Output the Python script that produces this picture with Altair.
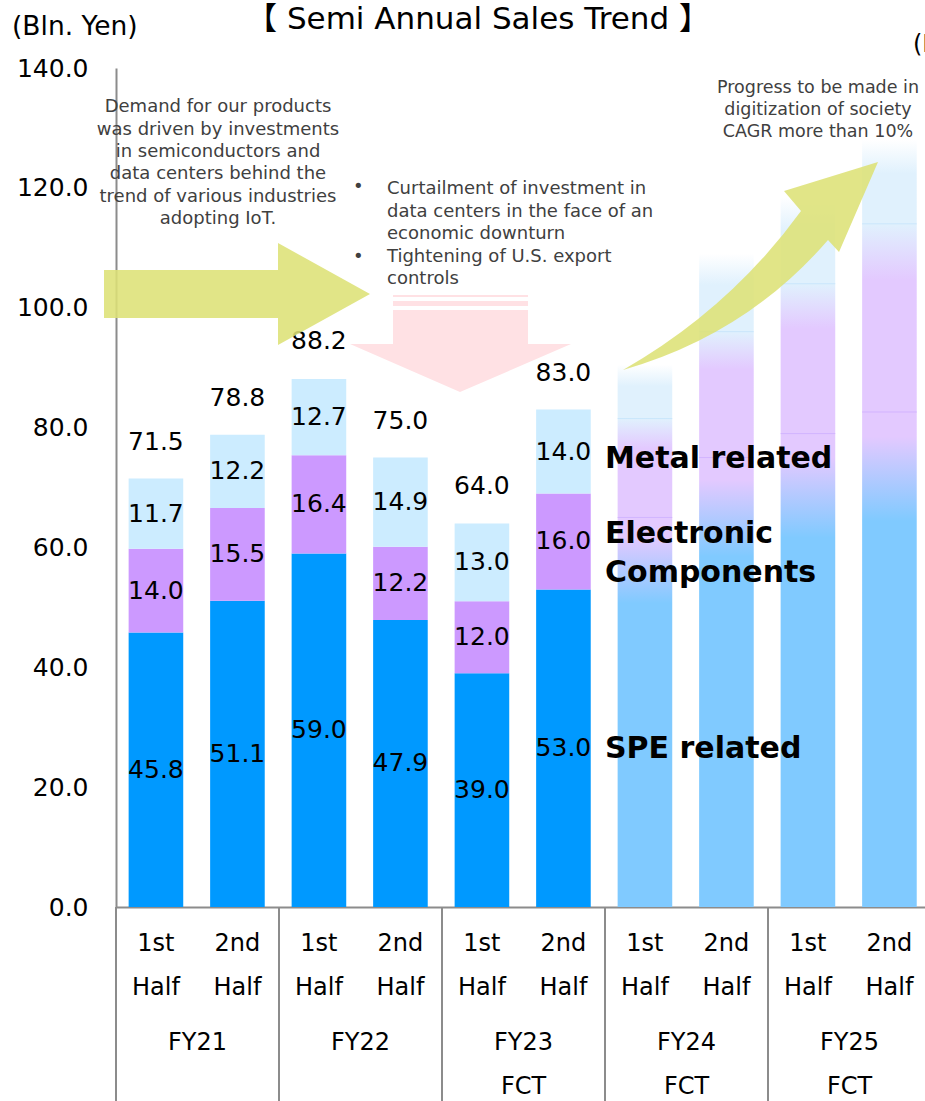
import altair as alt
import pandas as pd

# ---------------- data ----------------
fiscal_years = ["FY21", "FY22", "FY23", "FY24", "FY25"]
fy_suffix = ["", "", "FCT", "FCT", "FCT"]
halves = ["1st", "2nd"]
segments = ["SPE related", "Electronic Components", "Metal related"]

spe = [45.8, 51.1, 59.0, 47.9, 39.0, 53.0]
elec = [14.0, 15.5, 16.4, 12.2, 12.0, 16.0]
metal = [11.7, 12.2, 12.7, 14.9, 13.0, 14.0]
totals = [71.5, 78.8, 88.2, 75.0, 64.0, 83.0]

# forecast (faded) bars FY24 1H .. FY25 2H
fct_spe = [65.0, 75.0, 79.0, 82.6]
fct_elec = [16.5, 21.0, 25.0, 31.4]
fct_metal = [9.0, 13.0, 14.5, 14.0]

y_ticks = [0, 20, 40, 60, 80, 100, 120, 140]

# ---------------- tables ----------------
HALF_W = 0.335
CENTER = 0.49
rows = []
for i in range(len(spe)):
    base = 0.0
    for seg, vals in zip(segments, [spe, elec, metal]):
        v = vals[i]
        rows.append(dict(slot=i, seg=seg, y0=base, y1=base + v, mid=base + v / 2,
                         label=f"{v:.1f}", xs=i + CENTER - HALF_W,
                         xe=i + CENTER + HALF_W, xc=i + CENTER))
        base += v
bars = pd.DataFrame(rows)

tot = pd.DataFrame(dict(xc=[i + CENTER for i in range(len(totals))], total=totals,
                        label=[f"{t:.1f}" for t in totals]))

frows = []
for j in range(len(fct_spe)):
    s = len(spe) + j
    a = fct_spe[j]
    b = a + fct_elec[j]
    c = b + fct_metal[j]
    frows.append(dict(xs=s + CENTER - HALF_W, xe=s + CENTER + HALF_W,
                      s0=0, s1=a, e1=b, m1=c))
fct = pd.DataFrame(frows)

slots = pd.DataFrame(dict(
    xc=[k + CENTER for k in range(10)],
    half=[halves[k % 2] for k in range(10)],
))
groups = pd.DataFrame(dict(
    gc=[2 * g + 1.0 for g in range(5)],
    fy=fiscal_years,
    sub=fy_suffix,
    edge=[2 * g for g in range(5)],
))

FONT = "DejaVu Sans"
XDOM = [0, 809 / 81.5]
xs_ = alt.Scale(domain=XDOM, nice=False, zero=False)
ys_ = alt.Scale(domain=[0, 140], nice=False, zero=True)
one = pd.DataFrame({"a": [0]})

# ---------------- layers ----------------
bar_layer = alt.Chart(bars).mark_bar().encode(
    x=alt.X("xs:Q", scale=xs_,
            axis=alt.Axis(labels=False, ticks=False, grid=False, title=None,
                          domainColor="#8c8c8c", domainWidth=2)),
    x2="xe:Q",
    y=alt.Y("y0:Q", scale=ys_,
            axis=alt.Axis(values=y_ticks, format=".1f", title=None, grid=False,
                          ticks=False, labelFont=FONT, labelFontSize=25,
                          labelColor="#000000", labelPadding=28,
                          domainColor="#8c8c8c", domainWidth=2)),
    y2="y1:Q",
    color=alt.Color("seg:N", legend=None,
                    scale=alt.Scale(domain=segments,
                                    range=["#0099FF", "#CC99FF", "#CCECFF"])),
)

def grad(stops):
    return {"gradient": "linear", "x1": 0, "x2": 0, "y1": 0, "y2": 1,
            "stops": [{"offset": o, "color": c} for o, c in stops]}

fct_spe_layer = alt.Chart(fct).mark_bar(
    color=grad([(0, "#E3C9FF"), (0.05, "#E3C9FF"), (0.22, "#80CAFF"), (1, "#80CAFF")])
).encode(x=alt.X("xs:Q", scale=xs_), x2="xe:Q", y=alt.Y("s0:Q", scale=ys_), y2="s1:Q")

fct_elec_layer = alt.Chart(fct).mark_bar(
    color=grad([(0, "#E0F1FD"), (0.3, "#E3C9FF"), (1, "#E3C9FF")])
).encode(x=alt.X("xs:Q", scale=xs_), x2="xe:Q", y=alt.Y("s1:Q", scale=ys_), y2="e1:Q")

fct_metal_layer = alt.Chart(fct).mark_bar(
    color=grad([(0, "#FFFFFF"), (0.4, "#E0F1FD"), (1, "#E0F1FD")])
).encode(x=alt.X("xs:Q", scale=xs_), x2="xe:Q", y=alt.Y("e1:Q", scale=ys_), y2="m1:Q")

rule_a = alt.Chart(fct).mark_rule(color="#D2B4FF", strokeWidth=1).encode(
    x=alt.X("xs:Q", scale=xs_), x2="xe:Q", y=alt.Y("s1:Q", scale=ys_))
rule_b = alt.Chart(fct).mark_rule(color="#C8E5FB", strokeWidth=1).encode(
    x=alt.X("xs:Q", scale=xs_), x2="xe:Q", y=alt.Y("e1:Q", scale=ys_))

seg_text = alt.Chart(bars).mark_text(font=FONT, fontSize=25, color="#000000",
                                     baseline="middle", align="center").encode(
    x=alt.X("xc:Q", scale=xs_), y=alt.Y("mid:Q", scale=ys_), text="label:N")

tot_text = alt.Chart(tot).mark_text(font=FONT, fontSize=25, color="#000000",
                                    baseline="middle", align="center", dy=-37).encode(
    x=alt.X("xc:Q", scale=xs_), y=alt.Y("total:Q", scale=ys_), text="label:N")

# category table below the axis
half1 = alt.Chart(slots).mark_text(font=FONT, fontSize=24, color="#000000",
                                   baseline="middle").encode(
    x=alt.X("xc:Q", scale=xs_), y=alt.value(876), text="half:N")
half2 = alt.Chart(slots).mark_text(font=FONT, fontSize=24, color="#000000",
                                   baseline="middle", text="Half").encode(
    x=alt.X("xc:Q", scale=xs_), y=alt.value(920))
fy_text = alt.Chart(groups).mark_text(font=FONT, fontSize=24, color="#000000",
                                      baseline="middle").encode(
    x=alt.X("gc:Q", scale=xs_), y=alt.value(975), text="fy:N")
fct_text = alt.Chart(groups).mark_text(font=FONT, fontSize=24, color="#000000",
                                       baseline="middle").encode(
    x=alt.X("gc:Q", scale=xs_), y=alt.value(1019), text="sub:N")
dividers = alt.Chart(groups).mark_rule(color="#8c8c8c", strokeWidth=2).encode(
    x=alt.X("edge:Q", scale=xs_), y=alt.value(839), y2=alt.value(1033))

# ---------------- annotations ----------------
YELLOW = "#DDE176"

def shape(path, color, opacity):
    return alt.Chart(one).mark_point(shape=path, filled=True, fill=color,
                                     strokeWidth=0, size=4, opacity=opacity).encode(
        x=alt.value(0), y=alt.value(0))

arrow_right = shape("M-12,202 H162 V175 L254,226 L162,277 V250 H-12 Z", YELLOW, 0.88)
arrow_down = shape("M277,227 H412 V229 H277 Z M277,233 H412 V238 H277 Z "
                   "M277,242 H412 V276 H455 L344,324 L234,276 H277 Z", "#FFE1E4", 1.0)
arrow_up = shape("M507,302 Q614,241 685,143 L668,123 L762,94 L723,184 L712,172 "
                 "Q630,267 507,302 Z", YELLOW, 0.88)

def note(lines, x, y, size, color="#404040", align="center", weight="normal",
         lh=None, baseline="top", font=FONT):
    kw = dict(text=lines, font=font, fontSize=size, color=color, align=align,
              fontWeight=weight, baseline=baseline)
    if lh is not None:
        kw["lineHeight"] = lh
    return alt.Chart(one).mark_text(**kw).encode(x=alt.value(x), y=alt.value(y))

title = note("【 Semi Annual Sales Trend 】", 362, -48, 31, color="#000000",
             baseline="middle", font="DejaVu Sans, Noto Sans CJK JP")
unit_l = note("(Bln. Yen)", -104, -41, 26.5, color="#000000", align="left",
              baseline="middle")
unit_r = note("(Bln. Yen)", 797, -23, 24, color="#000000", align="left",
              baseline="middle")

demand = note(["Demand for our products", "was driven by investments",
               "in semiconductors and", "data centers behind the",
               "trend of various industries", "adopting IoT."],
              102, 30.2, 18, lh=22.4)
bullets_txt = note(["Curtailment of investment in", "data centers in the face of an",
                    "economic downturn", "Tightening of U.S. export", "controls"],
                   271, 112.2, 18, align="left", lh=22.5)
bullet1 = note("•", 237, 119, 18, align="left", baseline="middle")
bullet2 = note("•", 237, 189, 18, align="left", baseline="middle")
progress = note(["Progress to be made in", "digitization of society",
                 "CAGR more than 10%"], 702, 10.5, 17.5, lh=22)

lab_metal = note("Metal related", 489, 391, 30, color="#000000", align="left",
                 weight="bold", baseline="middle")
lab_elec = note(["Electronic", "Components"], 489, 451, 30, color="#000000",
                align="left", weight="bold", lh=39)
lab_spe = note("SPE related", 489, 681, 30, color="#000000", align="left",
               weight="bold", baseline="middle")

chart = alt.layer(
    bar_layer, fct_spe_layer, fct_elec_layer, fct_metal_layer, rule_a, rule_b,
    arrow_down, seg_text, tot_text, half1, half2, fy_text, fct_text, dividers,
    demand, bullets_txt, bullet1, bullet2, progress, lab_metal, lab_elec, lab_spe,
    arrow_right, arrow_up, title, unit_l, unit_r,
).properties(
    width=809, height=839,
    autosize=alt.AutoSizeParams(type="none"),
    padding={"left": 116, "top": 68, "right": 0, "bottom": 194},
    background="#FFFFFF",
).configure_view(stroke=None)

chart.save("out.html", embed_options={"renderer": "svg", "actions": False})
